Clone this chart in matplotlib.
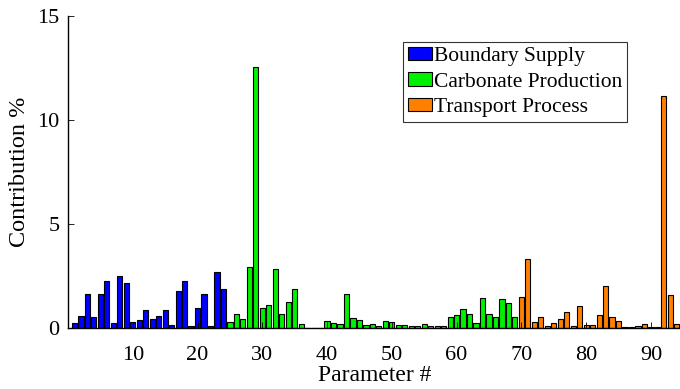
import matplotlib
matplotlib.use("Agg")
import matplotlib.pyplot as plt
import numpy as np

plt.rcParams['font.family'] = ['Liberation Serif', 'DejaVu Serif']

# --- data ---
boundary_supply = [0.24, 0.59, 1.67, 0.56, 1.66, 2.26, 0.26, 2.49, 2.17, 0.29,
                   0.38, 0.86, 0.46, 0.61, 0.88, 0.14, 1.79, 2.26, 0.13, 0.97,
                   1.66, 0.13, 2.70, 1.90]
carbonate_production = [0.29, 0.67, 0.43, 2.93, 12.55, 0.96, 1.12, 2.84, 0.69, 1.26,
                        1.87, 0.21, 0.0, 0.0, 0.0, 0.33, 0.26, 0.19, 1.64, 0.51,
                        0.38, 0.14, 0.21, 0.11, 0.33, 0.29, 0.14, 0.14, 0.10, 0.10,
                        0.21, 0.11, 0.10, 0.13, 0.53, 0.62, 0.93, 0.67, 0.26, 1.45,
                        0.67, 0.56, 1.39, 1.20, 0.56]
transport_process = [1.49, 3.35, 0.30, 0.53, 0.10, 0.24, 0.45, 0.78, 0.11, 1.05,
                     0.16, 0.16, 0.65, 2.03, 0.52, 0.36, 0.08, 0.08, 0.12, 0.19,
                     0.06, 0.08, 11.15, 1.58, 0.23]
group_labels = ['Boundary Supply', 'Carbonate Production', 'Transport Process']
group_colors = ['#0000ff', '#00f000', '#ff8000']

fig = plt.figure(figsize=(6.8, 3.89), dpi=100)
ax = fig.add_axes([0.1, 0.156, 0.902, 0.803])

start = 1
for vals, lab, col in zip([boundary_supply, carbonate_production, transport_process],
                          group_labels, group_colors):
    x = np.arange(start, start + len(vals))
    ax.bar(x, vals, width=0.8, color=col, edgecolor='black', linewidth=0.8, label=lab)
    start += len(vals)

ax.set_xlim(0, 94.7)
ax.set_ylim(0, 15)
ax.set_xticks(np.arange(10, 91, 10))
ax.set_yticks([0, 5, 10, 15])
ax.tick_params(direction='in', length=4, labelsize=16, width=0.6)
ax.tick_params(axis='x', pad=13)
ax.tick_params(axis='y', pad=6)
for side in ('top', 'right'):
    ax.spines[side].set_visible(False)
ax.spines['left'].set_linewidth(1.0)
ax.spines['bottom'].set_linewidth(1.0)

ax.set_xlabel('Parameter #', fontsize=17, labelpad=0)
ax.set_ylabel('Contribution %', fontsize=17.5, labelpad=5)

leg = fig.legend(loc='upper left', bbox_to_anchor=(403 / 680, 1 - 42 / 389),
                 fontsize=15.5, frameon=True, fancybox=False, edgecolor='black',
                 handlelength=1.15, handleheight=0.6, handletextpad=0.05,
                 labelspacing=0.28, borderpad=0.22, borderaxespad=0)
leg.get_frame().set_linewidth(0.8)

plt.savefig('out.png', dpi=100)
